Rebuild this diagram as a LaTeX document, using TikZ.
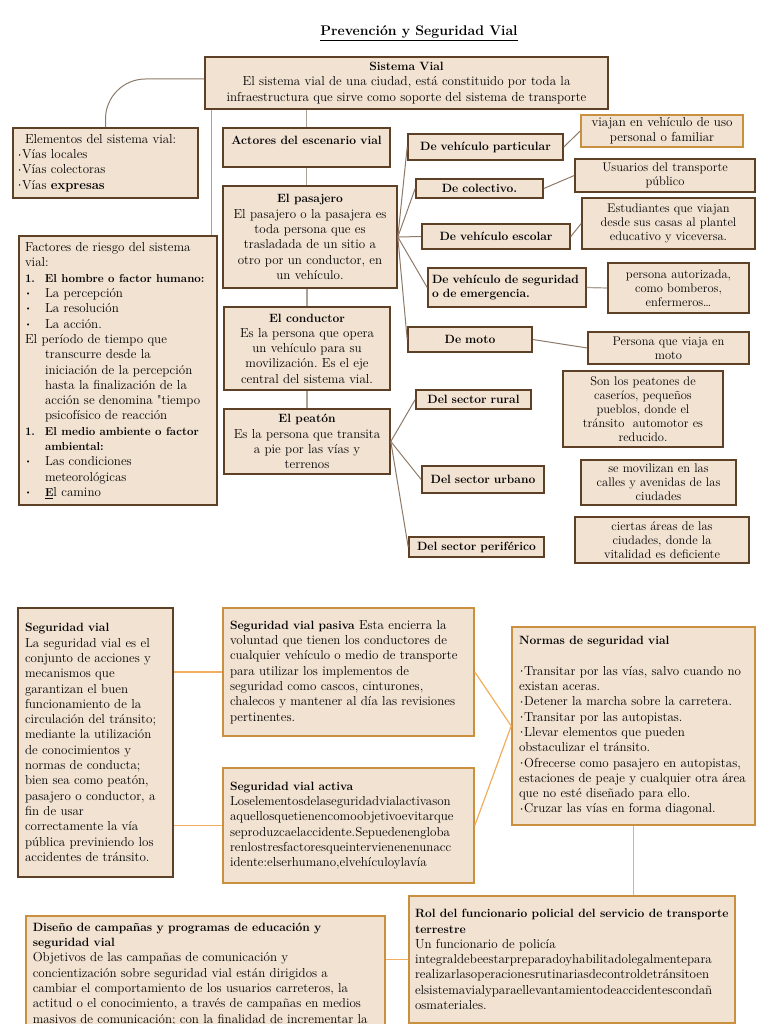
\documentclass[tikz,border=0pt]{standalone}
\usepackage{xcolor}
\usepackage{tikz}
\usetikzlibrary{positioning, calc}
\definecolor{cardfill}{HTML}{F2E2D2}
\definecolor{cardline}{HTML}{5E4026}
\definecolor{goldline}{HTML}{C8903F}
\definecolor{linkbrown}{HTML}{8E7A68}
\definecolor{linkgrey}{HTML}{ADA095}
\definecolor{linkgold}{HTML}{F0AE5E}
\newcommand{\hd}[1]{{\fontsize{12}{15.3}\selectfont\bfseries #1}}
\newcommand{\hb}[1]{{\fontsize{11.5}{15.3}\selectfont\bfseries #1}}
\newcommand{\bul}{\makebox[20pt][l]{\raisebox{0.35ex}{\scriptsize\textbullet}}}
\newcommand{\num}{\makebox[20pt][l]{\hb{1.}}}
\newcommand{\dotb}{\raisebox{0.45ex}{\tiny\textbullet}}
\frenchspacing

\begin{document}
\begin{tikzpicture}[x=1pt, y=-1pt,
    card/.style={rectangle, draw=cardline, fill=cardfill, line width=1.6pt,
                 inner xsep=4pt, inner ysep=2pt,
                 font=\fontsize{13}{15.3}\selectfont, align=center},
    goldcard/.style={card, draw=goldline},
    note/.style={card, font=\fontsize{12.5}{14}\selectfont},
    tag/.style={card, font=\fontsize{12}{14}\selectfont\bfseries},
    link/.style={draw=linkbrown, line width=1pt},
    greylink/.style={draw=linkgrey, line width=1.2pt},
    goldlink/.style={draw=linkgold, line width=1.2pt}
  ]
    \useasboundingbox (0,0) rectangle (768,1024);

    \node[font=\fontsize{14}{16}\selectfont\bfseries] (title) at (419,33)
      {\underline{Prevención y Seguridad Vial}};

    % sistema vial
    \node[card, text width=395pt, minimum height=52pt] (sistema) at (406.5,83)
      {\hd{Sistema Vial}\\
       El sistema vial de una ciudad, está constituido por toda la\\
       infraestructura que sirve como soporte del sistema de transporte};

    \node[card, text width=177pt, minimum height=70pt, align=left] (elementos) at (105.5,163)
      {\hspace*{8pt}Elementos del sistema vial:\\
       \dotb Vías locales\\
       \dotb Vías colectoras\\
       \dotb Vías \textbf{expresas}};

    \node[card, text width=186pt, minimum height=269pt, align=left, inner xsep=6pt] (factores) at (118,370.5)
      {Factores de riesgo del sistema\\
       vial:\\
       \num\hb{El hombre o factor humano:}\\
       \bul La percepción\\
       \bul La resolución\\
       \bul La acción.\\
       El período de tiempo que\\
       \hspace*{20pt}transcurre desde la\\
       \hspace*{20pt}iniciación de la percepción\\
       \hspace*{20pt}hasta la finalización de la\\
       \hspace*{20pt}acción se denomina \textquotedbl tiempo\\
       \hspace*{20pt}psicofísico de reacción\\
       \num\hb{El medio ambiente o factor}\\
       \hspace*{20pt}\hb{ambiental:}\\
       \bul Las condiciones\\
       \hspace*{20pt}meteorológicas\\
       \bul \underline{\hb{E}}l camino};

    % actores
    \node[card, text width=159pt, minimum height=39pt] (actores) at (306.5,147.5)
      {\hd{Actores del escenario vial}\\ \mbox{}};
    \node[card, text width=166pt, minimum height=102pt] (pasajero) at (310,237)
      {\hd{El pasajero}\\
       El pasajero o la pasajera es\\
       toda persona que es\\
       trasladada de un sitio a\\
       otro por un conductor, en\\
       un vehículo.};
    \node[card, text width=158pt, minimum height=83pt] (conductor) at (307,348.5)
      {\hd{El conductor}\\
       Es la persona que opera\\
       un vehículo para su\\
       movilización. Es el eje\\
       central del sistema vial.};
    \node[card, text width=158pt, minimum height=65pt] (peaton) at (307,441.5)
      {\hd{El peatón}\\
       Es la persona que transita\\
       a pie por las vías y\\
       terrenos};

    % tipos de pasajero
    \node[tag, text width=147pt, minimum height=26pt] (particular) at (485.5,147) {De vehículo particular};
    \node[tag, text width=119pt, minimum height=19pt] (colectivo)  at (479.5,188.5) {De colectivo.};
    \node[tag, text width=140pt, minimum height=25pt] (escolar)    at (496,236.5) {De vehículo escolar};
    \node[tag, text width=150pt, minimum height=39pt, align=left] (seguridad) at (507,287.5)
      {De vehículo de seguridad\\o de emergencia.};
    \node[tag, text width=116pt, minimum height=25pt] (moto)       at (470,339.5) {De moto};

    \node[note, goldcard, text width=154pt, minimum height=32pt] (viajan) at (662,131)
      {viajan en vehículo de uso\\personal o familiar};
    \node[note, text width=172pt, minimum height=33pt] (usuarios) at (665,175.5)
      {Usuarios del transporte\\público};
    \node[note, text width=165pt, minimum height=51pt] (estudiantes) at (668.5,223.5)
      {Estudiantes que viajan\\desde sus casas al plantel\\educativo y viceversa.};
    \node[note, text width=133pt, minimum height=50pt] (autorizada) at (678.5,288)
      {persona autorizada,\\como bomberos,\\enfermeros…};
    \node[note, text width=153pt, minimum height=32pt] (enmoto) at (668.5,348)
      {Persona que viaja en\\moto};

    % tipos de peaton
    \node[tag, text width=107pt, minimum height=19pt] (rural)      at (473.5,399.5) {Del sector rural};
    \node[tag, text width=114pt, minimum height=27pt] (urbano)     at (483,479.5) {Del sector urbano};
    \node[tag, text width=127pt, minimum height=20pt] (periferico) at (476.5,547) {Del sector periférico};

    \node[note, text width=152pt, minimum height=76pt] (caserios) at (643,409)
      {Son los peatones de\\caseríos, pequeños\\pueblos, donde el\\tránsito\ \ automotor es\\reducido.};
    \node[note, text width=147pt, minimum height=45pt] (calles) at (658.5,482.5)
      {se movilizan en las\\calles y avenidas de las\\ciudades};
    \node[note, text width=166pt, minimum height=46pt] (areas) at (662,540)
      {ciertas áreas de las\\ciudades, donde la\\vitalidad es deficiente};

    \coordinate (fx) at ([xshift=-6pt]factores.north east);
    \draw[link, rounded corners=40pt] ([yshift=4pt]sistema.west) -| (elementos.north);
    \draw[greylink] (fx |- sistema.south) -- (fx);
    \draw[greylink] (sistema.south -| actores.north) -- (actores.north);
    \draw[greylink] (actores.south) -- (actores.south |- pasajero.north);
    \draw[greylink] (pasajero.south -| conductor.north) -- (conductor.north);
    \draw[greylink] (conductor.south) -- (peaton.north);

    \draw[link] (pasajero.east) -- (particular.west);
    \draw[link] (pasajero.east) -- (colectivo.west);
    \draw[link] (pasajero.east) -- (escolar.west);
    \draw[link] (pasajero.east) -- (seguridad.west);
    \draw[link] (pasajero.east) -- (moto.west);
    \draw[link] (particular.east) -- (viajan.west);
    \draw[link] (colectivo.east) -- (usuarios.west);
    \draw[link] (escolar.east) -- (estudiantes.west);
    \draw[greylink] (seguridad.east) -- (autorizada.west);
    \draw[link] (moto.east) -- (enmoto.west);

    \draw[link] (peaton.east) -- (rural.west);
    \draw[link] (peaton.east) -- (urbano.west);
    \draw[link] (peaton.east) -- (periferico.west);

    % seguridad vial
    \node[card, text width=141pt, minimum height=269pt, align=left, inner xsep=7pt] (segvial) at (95.5,742.5)
      {\hd{Seguridad vial}\\
       La seguridad vial es el\\
       conjunto de acciones y\\
       mecanismos que\\
       garantizan el buen\\
       funcionamiento de la\\
       circulación del tránsito;\\
       mediante la utilización\\
       de conocimientos y\\
       normas de conducta;\\
       bien sea como peatón,\\
       pasajero o conductor, a\\
       fin de usar\\
       correctamente la vía\\
       pública previniendo los\\
       accidentes de tránsito.};

    \node[goldcard, text width=237pt, minimum height=128pt, align=left, inner xsep=7pt] (pasiva) at (348.5,672)
      {\hd{Seguridad vial pasiva} Esta encierra la\\
       voluntad que tienen los conductores de\\
       cualquier vehículo o medio de transporte\\
       para utilizar los implementos de\\
       seguridad como cascos, cinturones,\\
       chalecos y mantener al día las revisiones\\
       pertinentes.};
    \node[goldcard, text width=237pt, minimum height=115pt, align=left, inner xsep=7pt] (activa) at (348.5,825.5)
      {\hd{Seguridad vial activa}\\
       Loselementosdelaseguridadvialactivason\\
       aquellosquetienencomoobjetivoevitarque\\
       seproduzcaelaccidente.Sepuedenengloba\\
       renlostresfactoresqueintervienenenunacc\\
       idente:elserhumano,elvehículoylavía};

    \node[goldcard, text width=229pt, minimum height=198pt, align=left, inner xsep=7pt] (normas) at (633.5,726)
      {\hd{Normas de seguridad vial}\\[15.3pt]
       \dotb Transitar por las vías, salvo cuando no\\
       existan aceras.\\
       \dotb Detener la marcha sobre la carretera.\\
       \dotb Transitar por las autopistas.\\
       \dotb Llevar elementos que pueden\\
       obstaculizar el tránsito.\\
       \dotb Ofrecerse como pasajero en autopistas,\\
       estaciones de peaje y cualquier otra área\\
       que no esté diseñado para ello.\\
       \dotb Cruzar las vías en forma diagonal.};

    \node[goldcard, text width=314pt, minimum height=127pt, align=left, inner xsep=6pt] (rol) at (572,959.5)
      {\hd{Rol del funcionario policial del servicio de transporte}\\
       \hd{terrestre}\\
       Un funcionario de policía\\
       integraldebeestarpreparadoyhabilitadolegalmentepara\\
       realizarlasoperacionesrutinariasdecontroldetránsitoen\\
       elsistemavialyparaellevantamientodeaccidentescondañ\\
       osmateriales.};

    \node[goldcard, text width=345pt, align=left, anchor=north west, inner xsep=7pt, inner ysep=7pt] (diseno) at (25,915)
      {\hd{Diseño de campañas y programas de educación y}\\
       \hd{seguridad vial}\\
       Objetivos de las campañas de comunicación y\\
       concientización sobre seguridad vial están dirigidos a\\
       cambiar el comportamiento de los usuarios carreteros, la\\
       actitud o el conocimiento, a través de campañas en medios\\
       masivos de comunicación; con la finalidad de incrementar la\\
       \mbox{}};

    \draw[goldlink] (segvial.east |- pasiva.west) -- (pasiva.west);
    \draw[goldlink] (segvial.east |- activa.west) -- (activa.west);
    \draw[goldlink] (pasiva.east) -- (normas.west);
    \draw[goldlink] (activa.east) -- (normas.west);
    \draw[goldlink] (normas.south) -- (normas.south |- rol.north);
    \draw[goldlink] (rol.west) -- (rol.west -| diseno.east);
  \end{tikzpicture}
\end{document}
